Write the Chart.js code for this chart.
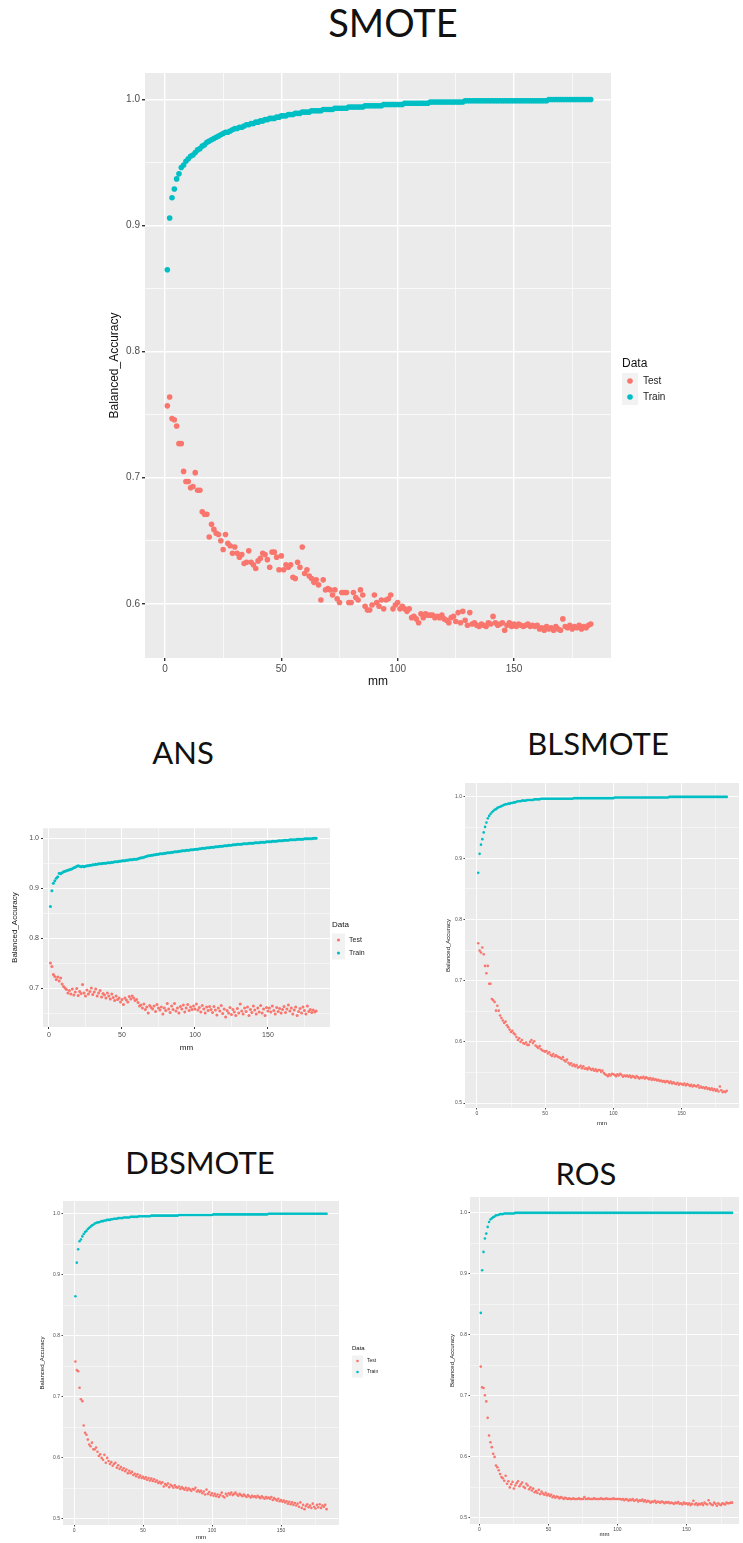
<!DOCTYPE html>
<html>
<head>
<meta charset="utf-8">
<script src="https://cdn.jsdelivr.net/npm/chart.js@4.4.1/dist/chart.umd.min.js"></script>
<style>
  body { margin: 0; background: #fff; width: 743px; height: 1543px; position: relative; overflow: hidden; }
  canvas { position: absolute; }
  .ttl { position: absolute; font-family: Lato, "Open Sans", sans-serif; color: #111; line-height: 1; white-space: nowrap; transform: translateX(-50%); }
</style>
</head>
<body>
<div class="ttl" style="left:393px;top:3px;font-size:38px">SMOTE</div>
<div class="ttl" style="left:183px;top:737px;font-size:31px">ANS</div>
<div class="ttl" style="left:598px;top:728px;font-size:31px">BLSMOTE</div>
<div class="ttl" style="left:200px;top:1147px;font-size:31px">DBSMOTE</div>
<div class="ttl" style="left:586px;top:1158px;font-size:31px">ROS</div>
<script>
// x values are mm = 1..183 for every series
const seriesNames = ['Test', 'Train'];
const testColor = '#F8766D';
const trainColor = '#00BFC4';
const legendTitle = 'Data';
const xTicks = [0, 25, 50, 75, 100, 125, 150, 175];
const yTicksSmote = [0.6, 0.65, 0.7, 0.75, 0.8, 0.85, 0.9, 0.95, 1.0];
const yTicksAns = [0.65, 0.7, 0.75, 0.8, 0.85, 0.9, 0.95, 1.0];
const yTicksLow = [0.5, 0.55, 0.6, 0.65, 0.7, 0.75, 0.8, 0.85, 0.9, 0.95, 1.0];

const smoteTest = [
  0.757,0.764,0.747,0.746,0.741,0.727,0.727,0.705,0.697,0.697,
  0.692,0.693,0.704,0.690,0.690,0.673,0.671,0.671,0.653,0.663,
  0.659,0.656,0.655,0.650,0.643,0.655,0.648,0.646,0.640,0.645,
  0.640,0.637,0.639,0.632,0.633,0.642,0.633,0.631,0.628,0.634,
  0.636,0.640,0.639,0.635,0.629,0.641,0.641,0.637,0.627,0.638,
  0.627,0.631,0.629,0.631,0.621,0.620,0.633,0.629,0.645,0.624,
  0.627,0.622,0.620,0.617,0.619,0.615,0.603,0.619,0.611,0.612,
  0.611,0.607,0.611,0.604,0.601,0.609,0.609,0.609,0.601,0.601,
  0.609,0.605,0.603,0.611,0.607,0.598,0.595,0.595,0.599,0.607,
  0.601,0.598,0.603,0.596,0.603,0.604,0.607,0.596,0.599,0.601,
  0.596,0.598,0.596,0.594,0.596,0.589,0.590,0.588,0.585,0.592,
  0.589,0.592,0.591,0.591,0.591,0.589,0.590,0.589,0.591,0.588,
  0.587,0.585,0.589,0.590,0.586,0.593,0.585,0.594,0.587,0.583,
  0.593,0.584,0.585,0.583,0.582,0.584,0.583,0.582,0.585,0.584,
  0.590,0.585,0.583,0.584,0.585,0.579,0.583,0.585,0.582,0.584,
  0.582,0.584,0.583,0.582,0.583,0.584,0.582,0.583,0.582,0.583,
  0.580,0.581,0.579,0.582,0.580,0.581,0.579,0.582,0.580,0.579,
  0.588,0.582,0.581,0.583,0.580,0.582,0.581,0.583,0.580,0.582,
  0.581,0.583,0.584
];
const smoteTrain = [
  0.865,0.906,0.922,0.929,0.937,0.941,0.946,0.948,0.951,0.953,
  0.955,0.956,0.958,0.960,0.961,0.963,0.964,0.966,0.967,0.968,
  0.969,0.970,0.971,0.972,0.973,0.974,0.974,0.975,0.976,0.977,
  0.977,0.978,0.978,0.979,0.980,0.980,0.981,0.981,0.982,0.982,
  0.983,0.983,0.984,0.984,0.985,0.985,0.985,0.986,0.986,0.987,
  0.987,0.987,0.988,0.988,0.988,0.989,0.989,0.989,0.990,0.990,
  0.990,0.990,0.991,0.991,0.991,0.991,0.991,0.992,0.992,0.992,
  0.992,0.992,0.993,0.993,0.993,0.993,0.993,0.993,0.994,0.994,
  0.994,0.994,0.994,0.994,0.994,0.995,0.995,0.995,0.995,0.995,
  0.995,0.995,0.995,0.996,0.996,0.996,0.996,0.996,0.996,0.996,
  0.996,0.996,0.997,0.997,0.997,0.997,0.997,0.997,0.997,0.997,
  0.997,0.997,0.997,0.998,0.998,0.998,0.998,0.998,0.998,0.998,
  0.998,0.998,0.998,0.998,0.998,0.998,0.998,0.998,0.999,0.999,
  0.999,0.999,0.999,0.999,0.999,0.999,0.999,0.999,0.999,0.999,
  0.999,0.999,0.999,0.999,0.999,0.999,0.999,0.999,0.999,0.999,
  0.999,0.999,0.999,0.999,0.999,0.999,0.999,0.999,0.999,0.999,
  0.999,0.999,0.999,0.999,1.000,1.000,1.000,1.000,1.000,1.000,
  1.000,1.000,1.000,1.000,1.000,1.000,1.000,1.000,1.000,1.000,
  1.000,1.000,1.000
];

const ansTest = [
  0.750,0.743,0.727,0.723,0.717,0.722,0.714,0.720,0.708,0.703,
  0.700,0.697,0.690,0.695,0.688,0.698,0.686,0.692,0.699,0.685,
  0.693,0.689,0.707,0.690,0.684,0.696,0.688,0.693,0.700,0.687,
  0.692,0.698,0.684,0.690,0.695,0.682,0.689,0.686,0.680,0.690,
  0.684,0.678,0.688,0.681,0.675,0.684,0.677,0.680,0.672,0.677,
  0.667,0.680,0.676,0.672,0.683,0.678,0.684,0.680,0.675,0.677,
  0.671,0.664,0.666,0.660,0.668,0.657,0.662,0.650,0.665,0.661,
  0.658,0.664,0.653,0.667,0.660,0.656,0.662,0.648,0.660,0.655,
  0.669,0.658,0.651,0.664,0.657,0.669,0.654,0.660,0.650,0.663,
  0.658,0.666,0.652,0.660,0.667,0.655,0.662,0.657,0.664,0.658,
  0.668,0.656,0.661,0.652,0.665,0.658,0.650,0.662,0.655,0.663,
  0.657,0.651,0.663,0.656,0.646,0.660,0.654,0.665,0.649,0.658,
  0.642,0.655,0.650,0.661,0.647,0.657,0.652,0.645,0.659,0.650,
  0.668,0.654,0.648,0.660,0.653,0.662,0.645,0.657,0.651,0.664,
  0.656,0.648,0.660,0.652,0.665,0.650,0.658,0.645,0.661,0.654,
  0.660,0.652,0.664,0.655,0.648,0.661,0.653,0.659,0.650,0.657,
  0.663,0.651,0.658,0.666,0.654,0.660,0.648,0.656,0.662,0.645,
  0.653,0.659,0.650,0.662,0.655,0.648,0.664,0.653,0.657,0.651,
  0.656,0.652,0.654
];
const ansTrain = [
  0.863,0.895,0.910,0.915,0.920,0.923,0.930,0.929,0.931,0.933,
  0.934,0.935,0.936,0.937,0.938,0.939,0.941,0.942,0.944,0.945,
  0.944,0.943,0.944,0.943,0.944,0.945,0.945,0.946,0.946,0.947,
  0.947,0.948,0.948,0.949,0.949,0.949,0.950,0.950,0.950,0.951,
  0.951,0.951,0.952,0.952,0.953,0.953,0.953,0.954,0.954,0.955,
  0.955,0.955,0.956,0.956,0.957,0.957,0.957,0.958,0.958,0.958,
  0.959,0.960,0.961,0.961,0.962,0.963,0.964,0.965,0.965,0.966,
  0.966,0.967,0.967,0.968,0.968,0.969,0.969,0.969,0.970,0.970,
  0.971,0.971,0.971,0.972,0.972,0.973,0.973,0.973,0.974,0.974,
  0.975,0.975,0.975,0.976,0.976,0.976,0.977,0.977,0.977,0.978,
  0.978,0.978,0.979,0.979,0.980,0.980,0.980,0.981,0.981,0.981,
  0.982,0.982,0.982,0.983,0.983,0.983,0.984,0.984,0.984,0.985,
  0.985,0.985,0.986,0.986,0.986,0.987,0.987,0.987,0.988,0.988,
  0.988,0.988,0.989,0.989,0.989,0.989,0.990,0.990,0.990,0.990,
  0.991,0.991,0.991,0.991,0.992,0.992,0.992,0.992,0.993,0.993,
  0.993,0.993,0.994,0.994,0.994,0.994,0.995,0.995,0.995,0.995,
  0.996,0.996,0.996,0.996,0.997,0.997,0.997,0.997,0.997,0.998,
  0.998,0.998,0.998,0.998,0.999,0.999,0.999,0.999,0.999,0.999,
  1.000,1.000,1.000
];

const blsmoteTest = [
  0.761,0.749,0.746,0.754,0.743,0.724,0.712,0.724,0.695,0.695,
  0.670,0.668,0.665,0.651,0.659,0.651,0.643,0.639,0.635,0.631,
  0.633,0.627,0.624,0.620,0.616,0.618,0.614,0.612,0.608,0.603,
  0.606,0.600,0.603,0.598,0.597,0.599,0.595,0.595,0.600,0.603,
  0.598,0.601,0.594,0.592,0.590,0.593,0.588,0.586,0.585,0.584,
  0.585,0.581,0.583,0.579,0.577,0.580,0.576,0.578,0.576,0.575,
  0.574,0.572,0.575,0.570,0.568,0.571,0.566,0.563,0.565,0.561,
  0.563,0.560,0.562,0.558,0.559,0.561,0.557,0.560,0.556,0.557,
  0.555,0.558,0.556,0.554,0.556,0.553,0.555,0.552,0.554,0.554,
  0.551,0.553,0.549,0.547,0.546,0.544,0.547,0.545,0.548,0.547,
  0.546,0.544,0.547,0.545,0.548,0.546,0.543,0.545,0.544,0.545,
  0.543,0.545,0.542,0.544,0.543,0.541,0.544,0.542,0.540,0.542,
  0.541,0.543,0.540,0.542,0.541,0.539,0.541,0.538,0.540,0.538,
  0.539,0.537,0.538,0.536,0.537,0.535,0.536,0.534,0.536,0.535,
  0.533,0.535,0.532,0.534,0.532,0.531,0.533,0.530,0.532,0.531,
  0.530,0.532,0.529,0.531,0.530,0.528,0.530,0.527,0.529,0.528,
  0.527,0.529,0.525,0.527,0.525,0.526,0.524,0.526,0.523,0.524,
  0.522,0.524,0.521,0.523,0.520,0.522,0.519,0.527,0.521,0.518,
  0.519,0.518,0.520
];
const blsmoteTrain = [
  0.876,0.907,0.922,0.931,0.942,0.951,0.958,0.965,0.969,0.972,
  0.975,0.977,0.979,0.980,0.982,0.983,0.984,0.985,0.986,0.987,
  0.988,0.988,0.989,0.989,0.990,0.990,0.991,0.991,0.992,0.993,
  0.993,0.993,0.994,0.994,0.994,0.994,0.995,0.995,0.995,0.995,
  0.995,0.996,0.996,0.996,0.996,0.996,0.997,0.997,0.997,0.997,
  0.997,0.997,0.997,0.997,0.997,0.997,0.997,0.997,0.997,0.997,
  0.997,0.997,0.997,0.997,0.997,0.997,0.997,0.997,0.997,0.997,
  0.998,0.998,0.998,0.998,0.998,0.998,0.998,0.998,0.998,0.998,
  0.998,0.998,0.998,0.998,0.998,0.998,0.998,0.998,0.998,0.998,
  0.998,0.998,0.998,0.998,0.998,0.998,0.998,0.998,0.998,0.998,
  0.999,0.999,0.999,0.999,0.999,0.999,0.999,0.999,0.999,0.999,
  0.999,0.999,0.999,0.999,0.999,0.999,0.999,0.999,0.999,0.999,
  0.999,0.999,0.999,0.999,0.999,0.999,0.999,0.999,0.999,0.999,
  0.999,0.999,0.999,0.999,0.999,0.999,0.999,0.999,0.999,0.999,
  1.000,1.000,1.000,1.000,1.000,1.000,1.000,1.000,1.000,1.000,
  1.000,1.000,1.000,1.000,1.000,1.000,1.000,1.000,1.000,1.000,
  1.000,1.000,1.000,1.000,1.000,1.000,1.000,1.000,1.000,1.000,
  1.000,1.000,1.000,1.000,1.000,1.000,1.000,1.000,1.000,1.000,
  1.000,1.000,1.000
];

const dbsmoteTest = [
  0.758,0.744,0.742,0.715,0.696,0.693,0.653,0.641,0.638,0.630,
  0.622,0.619,0.625,0.614,0.614,0.617,0.610,0.603,0.606,0.600,
  0.597,0.605,0.592,0.600,0.595,0.590,0.593,0.587,0.590,0.592,
  0.584,0.588,0.582,0.585,0.580,0.583,0.578,0.581,0.575,0.579,
  0.575,0.577,0.572,0.574,0.570,0.573,0.568,0.571,0.567,0.569,
  0.566,0.568,0.564,0.567,0.563,0.566,0.562,0.565,0.561,0.563,
  0.559,0.561,0.558,0.560,0.553,0.557,0.555,0.558,0.552,0.556,
  0.554,0.551,0.555,0.552,0.551,0.553,0.549,0.552,0.550,0.548,
  0.551,0.547,0.550,0.548,0.546,0.549,0.548,0.551,0.545,0.547,
  0.544,0.546,0.542,0.545,0.540,0.548,0.541,0.544,0.539,0.542,
  0.538,0.541,0.537,0.540,0.536,0.539,0.543,0.537,0.535,0.541,
  0.538,0.542,0.540,0.543,0.539,0.541,0.543,0.540,0.538,0.541,
  0.539,0.537,0.540,0.538,0.536,0.539,0.537,0.535,0.538,0.536,
  0.537,0.535,0.538,0.536,0.534,0.537,0.535,0.533,0.536,0.534,
  0.535,0.533,0.536,0.531,0.534,0.532,0.530,0.533,0.529,0.531,
  0.528,0.530,0.527,0.529,0.525,0.528,0.524,0.527,0.523,0.526,
  0.522,0.525,0.520,0.527,0.518,0.523,0.516,0.521,0.524,0.519,
  0.522,0.518,0.525,0.520,0.517,0.523,0.519,0.524,0.518,0.522,
  0.520,0.523,0.516
];
const dbsmoteTrain = [
  0.865,0.920,0.942,0.955,0.958,0.963,0.967,0.970,0.972,0.975,
  0.977,0.979,0.981,0.982,0.984,0.985,0.986,0.986,0.987,0.988,
  0.988,0.989,0.989,0.990,0.990,0.990,0.991,0.991,0.992,0.992,
  0.992,0.993,0.993,0.993,0.993,0.994,0.994,0.994,0.994,0.994,
  0.995,0.995,0.995,0.995,0.995,0.995,0.996,0.996,0.996,0.996,
  0.996,0.996,0.996,0.996,0.996,0.997,0.997,0.997,0.997,0.997,
  0.997,0.997,0.997,0.997,0.997,0.997,0.997,0.997,0.997,0.997,
  0.997,0.997,0.997,0.997,0.997,0.998,0.998,0.998,0.998,0.998,
  0.998,0.998,0.998,0.998,0.998,0.998,0.998,0.998,0.998,0.998,
  0.998,0.998,0.998,0.998,0.998,0.998,0.998,0.998,0.998,0.998,
  0.999,0.999,0.999,0.999,0.999,0.999,0.999,0.999,0.999,0.999,
  0.999,0.999,0.999,0.999,0.999,0.999,0.999,0.999,0.999,0.999,
  0.999,0.999,0.999,0.999,0.999,0.999,0.999,0.999,0.999,0.999,
  0.999,0.999,0.999,0.999,0.999,0.999,0.999,0.999,0.999,0.999,
  1.000,1.000,1.000,1.000,1.000,1.000,1.000,1.000,1.000,1.000,
  1.000,1.000,1.000,1.000,1.000,1.000,1.000,1.000,1.000,1.000,
  1.000,1.000,1.000,1.000,1.000,1.000,1.000,1.000,1.000,1.000,
  1.000,1.000,1.000,1.000,1.000,1.000,1.000,1.000,1.000,1.000,
  1.000,1.000,1.000
];

const rosTest = [
  0.748,0.714,0.713,0.701,0.691,0.664,0.635,0.624,0.616,0.605,
  0.600,0.586,0.583,0.578,0.572,0.567,0.565,0.561,0.569,0.556,
  0.560,0.550,0.555,0.559,0.548,0.553,0.557,0.560,0.552,0.555,
  0.558,0.551,0.549,0.556,0.553,0.547,0.550,0.545,0.548,0.542,
  0.544,0.541,0.546,0.539,0.543,0.540,0.538,0.541,0.537,0.539,
  0.536,0.538,0.534,0.536,0.533,0.535,0.534,0.532,0.534,0.533,
  0.531,0.533,0.532,0.531,0.532,0.531,0.531,0.532,0.531,0.531,
  0.531,0.532,0.531,0.531,0.531,0.534,0.531,0.531,0.532,0.531,
  0.531,0.531,0.532,0.531,0.531,0.531,0.531,0.532,0.531,0.531,
  0.531,0.532,0.531,0.531,0.531,0.531,0.532,0.531,0.531,0.531,
  0.531,0.531,0.530,0.531,0.529,0.531,0.530,0.528,0.530,0.529,
  0.531,0.528,0.529,0.530,0.527,0.529,0.528,0.530,0.527,0.529,
  0.526,0.528,0.527,0.525,0.527,0.526,0.528,0.525,0.527,0.526,
  0.525,0.527,0.526,0.524,0.526,0.525,0.526,0.524,0.525,0.524,
  0.523,0.525,0.524,0.526,0.523,0.524,0.522,0.525,0.523,0.524,
  0.522,0.524,0.521,0.523,0.528,0.522,0.524,0.521,0.523,0.522,
  0.524,0.521,0.525,0.523,0.522,0.529,0.524,0.522,0.521,0.525,
  0.523,0.520,0.524,0.522,0.521,0.524,0.523,0.522,0.525,0.524,
  0.524,0.525,0.525
];
const rosTrain = [
  0.836,0.906,0.936,0.958,0.966,0.977,0.985,0.989,0.991,0.993,
  0.994,0.996,0.996,0.997,0.998,0.998,0.998,0.999,0.999,0.999,
  0.999,0.999,0.999,0.999,0.999,1.000,1.000,1.000,1.000,1.000,
  1.000,1.000,1.000,1.000,1.000,1.000,1.000,1.000,1.000,1.000,
  1.000,1.000,1.000,1.000,1.000,1.000,1.000,1.000,1.000,1.000,
  1.000,1.000,1.000,1.000,1.000,1.000,1.000,1.000,1.000,1.000,
  1.000,1.000,1.000,1.000,1.000,1.000,1.000,1.000,1.000,1.000,
  1.000,1.000,1.000,1.000,1.000,1.000,1.000,1.000,1.000,1.000,
  1.000,1.000,1.000,1.000,1.000,1.000,1.000,1.000,1.000,1.000,
  1.000,1.000,1.000,1.000,1.000,1.000,1.000,1.000,1.000,1.000,
  1.000,1.000,1.000,1.000,1.000,1.000,1.000,1.000,1.000,1.000,
  1.000,1.000,1.000,1.000,1.000,1.000,1.000,1.000,1.000,1.000,
  1.000,1.000,1.000,1.000,1.000,1.000,1.000,1.000,1.000,1.000,
  1.000,1.000,1.000,1.000,1.000,1.000,1.000,1.000,1.000,1.000,
  1.000,1.000,1.000,1.000,1.000,1.000,1.000,1.000,1.000,1.000,
  1.000,1.000,1.000,1.000,1.000,1.000,1.000,1.000,1.000,1.000,
  1.000,1.000,1.000,1.000,1.000,1.000,1.000,1.000,1.000,1.000,
  1.000,1.000,1.000,1.000,1.000,1.000,1.000,1.000,1.000,1.000,
  1.000,1.000,1.000
];

function toPoints(vals) {
  return vals.map((v, i) => ({ x: i + 1, y: v }));
}

// grey ggplot panel behind the grid
const panelBg = {
  id: 'panelBg',
  beforeDraw(chart) {
    const a = chart.chartArea, c = chart.ctx;
    c.save();
    c.fillStyle = '#ebebeb';
    c.fillRect(a.left, a.top, a.right - a.left, a.bottom - a.top);
    c.restore();
  }
};

// ggplot style legend: title, grey key boxes, dots and labels
const ggLegend = {
  id: 'ggLegend',
  afterDraw(chart, args, o) {
    if (!o.show) return;
    const c = chart.ctx;
    c.save();
    c.textBaseline = 'middle';
    c.textAlign = 'left';
    c.fillStyle = '#111';
    c.font = o.titleSize + 'px "Liberation Sans", Arial, sans-serif';
    c.fillText(legendTitle, o.x, o.y);
    chart.data.datasets.forEach((ds, i) => {
      const yy = o.y + o.first + i * o.step;
      c.fillStyle = '#f2f2f2';
      c.fillRect(o.x, yy - o.step / 2, o.step, o.step);
      c.fillStyle = ds.backgroundColor;
      c.beginPath();
      c.arc(o.x + o.step / 2, yy, o.r, 0, Math.PI * 2);
      c.fill();
      c.fillStyle = '#222';
      c.font = o.labelSize + 'px "Liberation Sans", Arial, sans-serif';
      c.fillText(ds.label, o.x + o.step + o.gap, yy);
    });
    c.restore();
  }
};

function makePanel(p) {
  const cv = document.createElement('canvas');
  const left = p.area[0] - p.yw, top = p.area[1] - p.pt;
  const w = p.area[2] - p.area[0] + p.yw + p.er;
  const h = p.area[3] - p.area[1] + p.pt + p.xh;
  cv.width = w; cv.height = h;
  cv.style.left = left + 'px';
  cv.style.top = top + 'px';
  document.body.appendChild(cv);

  const font = 'Liberation Sans, Arial, sans-serif';
  const isMajorY = v => Math.round(v * 100) % 10 === 0;
  const isMajorX = v => v % 50 === 0;

  const leg = p.legend ? Object.assign({ show: true }, p.legend, {
    x: p.legend.x - left, y: p.legend.y - top
  }) : { show: false };

  new Chart(cv, {
    type: 'scatter',
    data: {
      datasets: [
        { label: seriesNames[0], data: toPoints(p.test), backgroundColor: testColor, borderWidth: 0, pointRadius: p.r },
        { label: seriesNames[1], data: toPoints(p.train), backgroundColor: trainColor, borderWidth: 0, pointRadius: p.r }
      ]
    },
    options: {
      responsive: false,
      animation: false,
      devicePixelRatio: 1,
      layout: { padding: { top: p.pt, right: p.er, left: 0, bottom: 0 } },
      plugins: {
        legend: { display: false },
        tooltip: { enabled: false },
        ggLegend: leg
      },
      scales: {
        x: {
          type: 'linear',
          min: p.xr[0], max: p.xr[1],
          afterBuildTicks: s => { s.ticks = xTicks.filter(v => v >= p.xr[0] && v <= p.xr[1]).map(v => ({ value: v })); },
          afterFit: s => { s.height = p.xh; },
          ticks: {
            autoSkip: false, maxRotation: 0, padding: p.tp, color: '#4d4d4d',
            font: { family: font, size: p.tick },
            callback: v => isMajorX(v) ? String(v) : ''
          },
          grid: {
            color: '#ffffff',
            lineWidth: ctx => isMajorX(ctx.tick.value) ? p.gw : p.gw / 2,
            tickColor: ctx => isMajorX(ctx.tick.value) ? '#333' : 'rgba(0,0,0,0)',
            tickLength: p.tl
          },
          border: { display: false },
          title: { display: true, text: 'mm', color: '#111', padding: 0, font: { family: font, size: p.ttl } }
        },
        y: {
          type: 'linear',
          min: p.yr[0], max: p.yr[1],
          afterBuildTicks: s => { s.ticks = p.yTicks.filter(v => v >= p.yr[0] && v <= p.yr[1]).map(v => ({ value: v })); },
          afterFit: s => { s.width = p.yw; },
          ticks: {
            autoSkip: false, padding: p.tp, color: '#4d4d4d',
            font: { family: font, size: p.tick },
            callback: v => isMajorY(v) ? v.toFixed(1) : ''
          },
          grid: {
            color: '#ffffff',
            lineWidth: ctx => isMajorY(ctx.tick.value) ? p.gw : p.gw / 2,
            tickColor: ctx => isMajorY(ctx.tick.value) ? '#333' : 'rgba(0,0,0,0)',
            tickLength: p.tl
          },
          border: { display: false },
          title: { display: true, text: 'Balanced_Accuracy', color: '#111', padding: 0, font: { family: font, size: p.ttl } }
        }
      }
    },
    plugins: [panelBg, ggLegend]
  });
}

makePanel({
  test: smoteTest, train: smoteTrain,
  area: [145, 73, 611, 658], xr: [-8.6, 191.7], yr: [0.557, 1.021], yTicks: yTicksSmote,
  yw: 38, xh: 31, pt: 10, er: 132, r: 2.8, tick: 10, ttl: 12, tl: 3, tp: 2, gw: 1.4,
  legend: { x: 622, y: 364, first: 17, step: 16, r: 2.8, gap: 5, titleSize: 12, labelSize: 10 }
});
makePanel({
  test: ansTest, train: ansTrain,
  area: [43, 828, 330, 1027], xr: [-4.1, 192.5], yr: [0.622, 1.02], yTicks: yTicksAns,
  yw: 33, xh: 26, pt: 6, er: 60, r: 1.5, tick: 7, ttl: 8, tl: 2, tp: 2, gw: 1.0,
  legend: { x: 332, y: 925, first: 15, step: 13, r: 1.6, gap: 4, titleSize: 8, labelSize: 7 }
});
makePanel({
  test: blsmoteTest, train: blsmoteTrain,
  area: [465, 783, 741, 1108], xr: [-8.7, 192], yr: [0.492, 1.0227], yTicks: yTicksLow,
  yw: 20, xh: 19, pt: 5, er: 2, r: 1.3, tick: 5, ttl: 6, tl: 1.5, tp: 1.5, gw: 0.9
});
makePanel({
  test: dbsmoteTest, train: dbsmoteTrain,
  area: [63, 1201, 339, 1525], xr: [-8, 192], yr: [0.490, 1.021], yTicks: yTicksLow,
  yw: 24, xh: 16, pt: 5, er: 60, r: 1.3, tick: 5, ttl: 6, tl: 1.5, tp: 1.5, gw: 0.9,
  legend: { x: 352, y: 1348, first: 13, step: 11, r: 1.3, gap: 4, titleSize: 6, labelSize: 5 }
});
makePanel({
  test: rosTest, train: rosTrain,
  area: [470, 1197, 742, 1524], xr: [-6.8, 188], yr: [0.490, 1.026], yTicks: yTicksLow,
  yw: 21, xh: 14, pt: 5, er: 1, r: 1.3, tick: 5, ttl: 6, tl: 1.5, tp: 1.5, gw: 0.9
});
</script>
</body>
</html>
